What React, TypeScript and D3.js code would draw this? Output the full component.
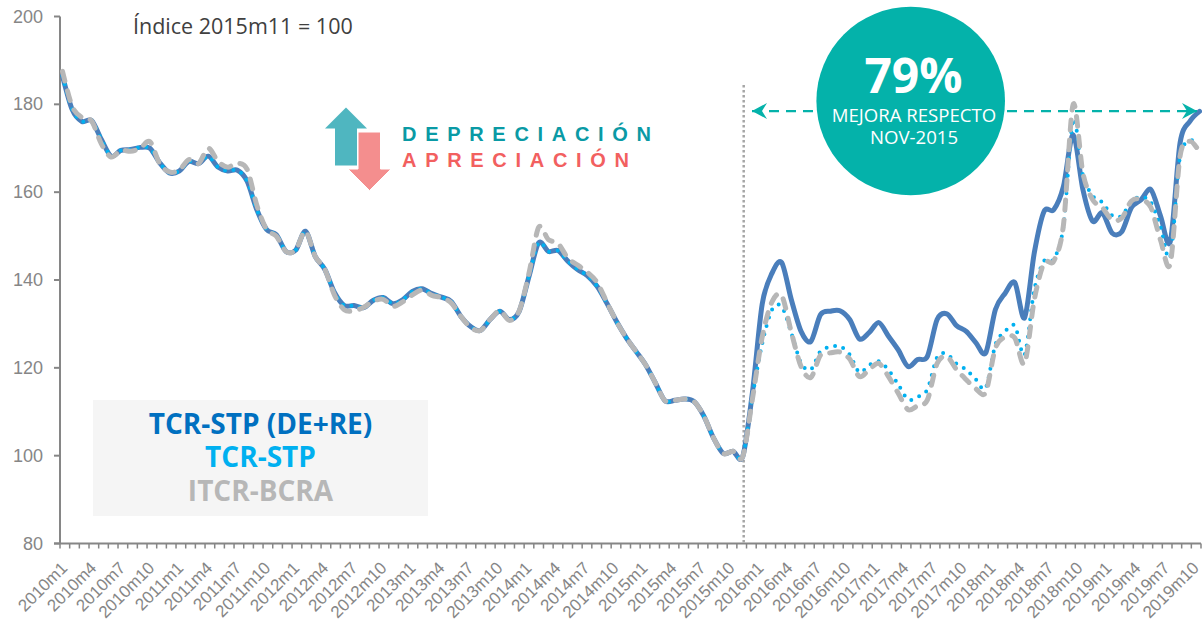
import React from "react";
import * as d3 from "d3";

const tickYears = [2010, 2011, 2012, 2013, 2014, 2015, 2016, 2017, 2018, 2019];
const tickMonths = [1, 4, 7, 10];
const yTicks = [80, 100, 120, 140, 160, 180, 200];

const tcrDeRe = [
  186.5, 178.8, 176.1, 176.3, 172, 168.2, 169.5, 169.7, 170.2, 170, 166.7, 164.4,
  164.8, 167, 166.5, 168.2, 165.7, 164.8, 165, 162.5, 156, 151.5, 150.3, 146.5,
  146.8, 151.1, 145.4, 142.4, 137.1, 134.2, 134.2, 133.7, 135.4, 136, 134.6, 135.5,
  137.4, 138, 136.9, 136.1, 135.1, 131.7, 129.4, 128.5, 131, 132.9, 131, 132.9,
  140.8, 148.5, 146.5, 146.7, 144.3, 142.4, 141, 138.6, 134.8, 130.6, 126.9, 123.8,
  120.7, 116.6, 112.5, 112.6, 112.9, 112.3, 109, 104, 100.5, 101, 99.8, 114.5,
  134.5, 141.5, 144, 135.5, 128.3, 126, 132.1, 132.9, 133, 131, 126.6, 128,
  130.3, 127.2, 124.1, 120.3, 121.9, 122.6, 131, 132.3, 129.6, 128.3, 125.7, 123.4,
  133.3, 137, 139.4, 131.4, 146.2, 155.6, 156, 161.3, 173.1, 160.6, 153.4, 155.3,
  150.7, 151, 156.5, 158.3, 160.6, 154.5, 148.8, 171.2, 176.1, 178.4,
];

const tcrStp = [
  186.5, 178.8, 176.1, 176.3, 172, 168.2, 169.5, 169.7, 170.2, 170, 166.7, 164.4,
  164.8, 167, 166.5, 168.2, 165.7, 164.8, 165, 162.5, 156, 151.5, 150.3, 146.5,
  146.8, 151.1, 145.4, 142.4, 137.1, 134.2, 134.2, 133.7, 135.4, 136, 134.6, 135.5,
  137.4, 138, 136.9, 136.1, 135.1, 131.7, 129.4, 128.5, 131, 132.9, 131, 132.9,
  140.8, 148.5, 146.5, 146.7, 144.3, 142.4, 141, 138.6, 134.8, 130.6, 126.9, 123.8,
  120.7, 116.6, 112.5, 112.6, 112.9, 112.3, 109, 104, 100.5, 101, 99.8, 113.5,
  125.5, 133.2, 134, 127.9, 121.1, 119.6, 123.8, 124.7, 124.9, 123, 119, 120.6,
  121.5, 119.5, 116.2, 112.8, 113.4, 115.1, 122.4, 123.2, 120.9, 119.6, 117.3, 115.4,
  125.3, 128.3, 129.6, 123, 137.8, 144.3, 144.8, 152.2, 176.5, 163.9, 159.2, 157.7,
  154.7, 154.6, 158, 158.9, 157.7, 152, 145.4, 168.2, 171.4, 172.8,
];

const itcrBcra = [
  187.5, 179.5, 177, 176.2, 171, 168, 169.5, 169.3, 170, 171.5, 166.5, 164.6,
  165, 167.4, 166.5, 170, 167, 165.7, 166.6, 165.2, 157, 151.5, 150, 146.5,
  146.8, 151.1, 145.4, 142.4, 136.5, 133.2, 133, 133.8, 135.2, 135.6, 134, 135,
  136.6, 137.7, 136.5, 136, 134.8, 131.7, 129.2, 128.5, 131, 133, 130.8, 133,
  141.5, 152, 149.2, 148.3, 145, 143.4, 141.8, 139.5, 135, 130.6, 126.9, 123.8,
  120.7, 116.6, 112.5, 112.6, 112.9, 112.3, 109, 104, 100.5, 101, 99.8, 113,
  127, 135, 136.5, 128.1, 120.3, 117.8, 122.9, 123.4, 123.6, 122, 118, 119.6,
  121, 118, 114.2, 110.5, 111.4, 112.7, 121, 122.6, 119.6, 117.3, 115.2, 114.4,
  124.5, 127, 126.8, 121, 135.5, 143.9, 144.3, 152.5, 180, 164.4, 158.3, 156.5,
  153.7, 154.1, 158, 158.3, 156.5, 149, 143.8, 168.2, 171.6, 169.2,
];

const categories: string[] = [];
tickYears.forEach((yr) => {
  d3.range(1, 13).forEach((m) => {
    if (categories.length < tcrDeRe.length) categories.push(`${yr}m${m}`);
  });
});
const labelled = categories.filter((c) => tickMonths.includes(+c.split("m")[1]));

const W = 1202;
const H = 619;
const AXIS = "#868686";
const SANS = "'Liberation Sans', Arial, sans-serif";
const OPEN = "'Open Sans', sans-serif";

const x = d3.scalePoint<string>().domain(categories).range([62.5, 1199.5]);
const y = d3.scaleLinear().domain([80, 200]).range([543.5, 16.5]);
const tickX = d3.scaleLinear().domain([0, categories.length]).range([60, 1201]);

const line = d3
  .line<number>()
  .x((_, i) => x(categories[i]) as number)
  .y((d) => y(d))
  .curve(d3.curveCardinal.tension(0.1));

export default function App() {
  return (
    <svg
      width={W}
      height={H}
      viewBox={`0 0 ${W} ${H}`}
      style={{ position: "absolute", left: 0, top: 0, display: "block", background: "#fff" }}
    >
      <defs>
        <marker id="arrowHead" viewBox="0 0 16 18" refX="15" refY="9" markerWidth="16" markerHeight="18" orient="auto-start-reverse" markerUnits="userSpaceOnUse">
          <path d="M0,1 L15,9 L0,17 L5,9 Z" fill="#04b2aa" />
        </marker>
      </defs>

      {/* axes */}
      <line x1={60} x2={60} y1={y(200)} y2={y(80)} stroke={AXIS} strokeWidth={2} />
      <line x1={54} x2={1201} y1={y(80)} y2={y(80)} stroke={AXIS} strokeWidth={2} />
      {yTicks.map((t) => (
        <g key={t}>
          <line x1={54} x2={60} y1={y(t)} y2={y(t)} stroke={AXIS} strokeWidth={2} />
          <text x={43} y={y(t) + 6} textAnchor="end" fontFamily={SANS} fontSize={18} fill="#868686">
            {t}
          </text>
        </g>
      ))}
      {d3.range(categories.length + 1).map((i) => (
        <line key={i} x1={tickX(i)} x2={tickX(i)} y1={y(80)} y2={y(80) + 5} stroke={AXIS} strokeWidth={1.5} />
      ))}
      {labelled.map((c) => (
        <text
          key={c}
          transform={`translate(${tickX(categories.indexOf(c))},${560.5}) rotate(-45)`}
          textAnchor="end"
          dominantBaseline="hanging"
          fontFamily={SANS}
          fontSize={17}
          fill="#868686"
        >
          {c}
        </text>
      ))}

      {/* legend box */}
      <rect x={93} y={400} width={335} height={116} fill="#f5f5f5" />
      <g textAnchor="middle" fontFamily={OPEN} fontWeight={700} fontSize={28}>
        <text x={260.5} y={434} fill="#0070c0">TCR-STP (DE+RE)</text>
        <text x={260.5} y={467} fill="#00b0f0">TCR-STP</text>
        <text x={260.5} y={500.5} fill="#b7b7b7">ITCR-BCRA</text>
      </g>

      {/* dotted marker of nov-2015 */}
      <line x1={743.7} x2={743.7} y1={85} y2={543} stroke="#a6a6a6" strokeWidth={2.5} strokeDasharray="2.5 2.5" />

      {/* series */}
      <path d={line(tcrDeRe) as string} fill="none" stroke="#4a7ebb" strokeWidth={5} strokeLinecap="round" strokeLinejoin="round" />
      <path d={line(tcrStp) as string} fill="none" stroke="#00b0f0" strokeWidth={4} strokeLinecap="round" strokeDasharray="0 8.7" />
      <path d={line(itcrBcra) as string} fill="none" stroke="#b7b7b7" strokeWidth={5} strokeLinecap="round" strokeDasharray="10 10" />

      {/* arrow */}
      <line x1={752} x2={1197} y1={111} y2={111} stroke="#04b2aa" strokeWidth={2.25} strokeDasharray="10 7" markerStart="url(#arrowHead)" markerEnd="url(#arrowHead)" />

      {/* circle */}
      <circle cx={910.7} cy={101} r={94.3} fill="#04b2aa" />
      <g textAnchor="middle" fill="#fff" fontFamily={OPEN}>
        <text x={913.5} y={92.5} fontWeight={700} fontSize={48}>79%</text>
        <text x={914} y={122} fontSize={18.6}>MEJORA RESPECTO</text>
        <text x={914} y={144} fontSize={18.6}>NOV-2015</text>
      </g>

      {/* subtitle */}
      <text x={133} y={34} fontFamily={OPEN} fontSize={21.5} fill="#404040">Índice 2015m11 = 100</text>

      {/* up and down arrows */}
      <path d="M346,107.5 L367,128.5 L357,128.5 L357,165.5 L335,165.5 L335,128.5 L325,128.5 Z" fill="#4fb6c0" />
      <path d="M358,132 L380.5,132 L380.5,169 L391,169 L369.5,190.5 L348,169 L358,169 Z" fill="#f48e8e" stroke="#fff" strokeWidth={1} />
      <g fontFamily={SANS} fontWeight={700} fontSize={20} letterSpacing={8.7}>
        <text x={402} y={140.5} fill="#0a9aa5">DEPRECIACIÓN</text>
        <text x={402} y={167} fill="#f2605f">APRECIACIÓN</text>
      </g>
    </svg>
  );
}
